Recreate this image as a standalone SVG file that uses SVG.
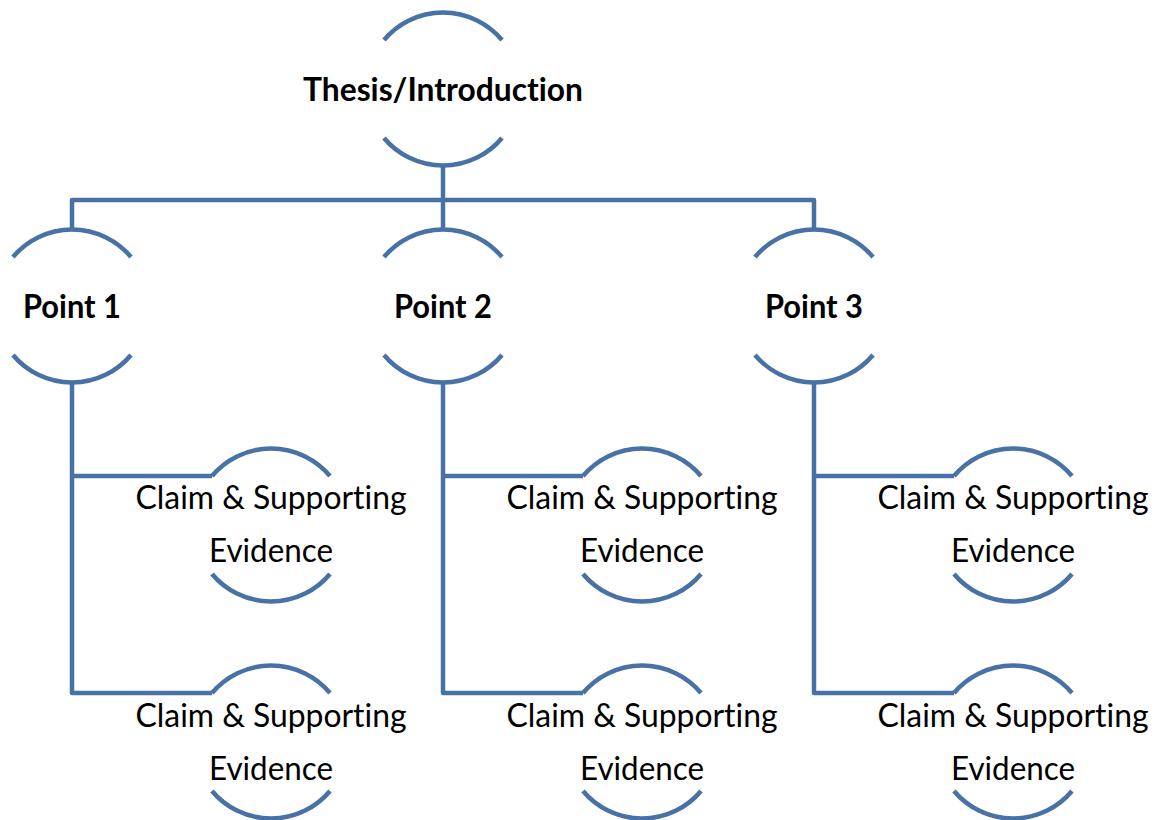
<svg xmlns="http://www.w3.org/2000/svg" width="1162" height="820" viewBox="0 0 1162 820">
<style>
.ln{fill:none;stroke:#4871a6;stroke-width:4.5;stroke-linejoin:round}
.arc{fill:none;stroke:#4871a6;stroke-width:4.5}
.b{font-family:Lato,"Open Sans",sans-serif;font-weight:bold;font-size:33px;fill:#000;text-anchor:middle;font-variant-ligatures:none}
.r{font-family:Lato,"Open Sans",sans-serif;font-size:33px;fill:#000;text-anchor:middle;font-variant-ligatures:none}
</style>
<rect width="1162" height="820" fill="#fff"/>
<g id="connectors">
<path class="ln" d="M443 166V200M72 229V200H814V229M443 200V229"/>
<path class="ln" d="M72 383V693H212M72 476H212"/>
<path class="ln" d="M443 383V693H583M443 476H583"/>
<path class="ln" d="M814 383V693H954M814 476H954"/>
</g>
<g id="thesis">
<path class="arc" d="M384 40A77 77 0 0 1 502 40M384 138A77 77 0 0 0 502 138"/>
<text class="b" x="443" y="101" textLength="280" lengthAdjust="spacingAndGlyphs">Thesis/Introduction</text>
</g>
<g id="point1">
<path class="arc" d="M13 257A77 77 0 0 1 131 257M13 355A77 77 0 0 0 131 355"/>
<text class="b" x="72" y="318" textLength="98" lengthAdjust="spacingAndGlyphs">Point 1</text>
</g>
<g id="point2">
<path class="arc" d="M384 257A77 77 0 0 1 502 257M384 355A77 77 0 0 0 502 355"/>
<text class="b" x="443" y="318" textLength="98" lengthAdjust="spacingAndGlyphs">Point 2</text>
</g>
<g id="point3">
<path class="arc" d="M755 257A77 77 0 0 1 873 257M755 355A77 77 0 0 0 873 355"/>
<text class="b" x="814" y="318" textLength="98" lengthAdjust="spacingAndGlyphs">Point 3</text>
</g>
<g id="claim1a">
<path class="arc" d="M212 476A77 77 0 0 1 330 476M212 574A77 77 0 0 0 330 574"/>
<text class="r" x="271" y="509" textLength="271" lengthAdjust="spacingAndGlyphs">Claim &amp; Supporting</text>
<text class="r" x="271" y="562" textLength="124" lengthAdjust="spacingAndGlyphs">Evidence</text>
</g>
<g id="claim1b">
<path class="arc" d="M212 693A77 77 0 0 1 330 693M212 791A77 77 0 0 0 330 791"/>
<text class="r" x="271" y="727" textLength="271" lengthAdjust="spacingAndGlyphs">Claim &amp; Supporting</text>
<text class="r" x="271" y="780" textLength="124" lengthAdjust="spacingAndGlyphs">Evidence</text>
</g>
<g id="claim2a">
<path class="arc" d="M583 476A77 77 0 0 1 701 476M583 574A77 77 0 0 0 701 574"/>
<text class="r" x="642" y="509" textLength="271" lengthAdjust="spacingAndGlyphs">Claim &amp; Supporting</text>
<text class="r" x="642" y="562" textLength="124" lengthAdjust="spacingAndGlyphs">Evidence</text>
</g>
<g id="claim2b">
<path class="arc" d="M583 693A77 77 0 0 1 701 693M583 791A77 77 0 0 0 701 791"/>
<text class="r" x="642" y="727" textLength="271" lengthAdjust="spacingAndGlyphs">Claim &amp; Supporting</text>
<text class="r" x="642" y="780" textLength="124" lengthAdjust="spacingAndGlyphs">Evidence</text>
</g>
<g id="claim3a">
<path class="arc" d="M954 476A77 77 0 0 1 1072 476M954 574A77 77 0 0 0 1072 574"/>
<text class="r" x="1013" y="509" textLength="271" lengthAdjust="spacingAndGlyphs">Claim &amp; Supporting</text>
<text class="r" x="1013" y="562" textLength="124" lengthAdjust="spacingAndGlyphs">Evidence</text>
</g>
<g id="claim3b">
<path class="arc" d="M954 693A77 77 0 0 1 1072 693M954 791A77 77 0 0 0 1072 791"/>
<text class="r" x="1013" y="727" textLength="271" lengthAdjust="spacingAndGlyphs">Claim &amp; Supporting</text>
<text class="r" x="1013" y="780" textLength="124" lengthAdjust="spacingAndGlyphs">Evidence</text>
</g>
</svg>
